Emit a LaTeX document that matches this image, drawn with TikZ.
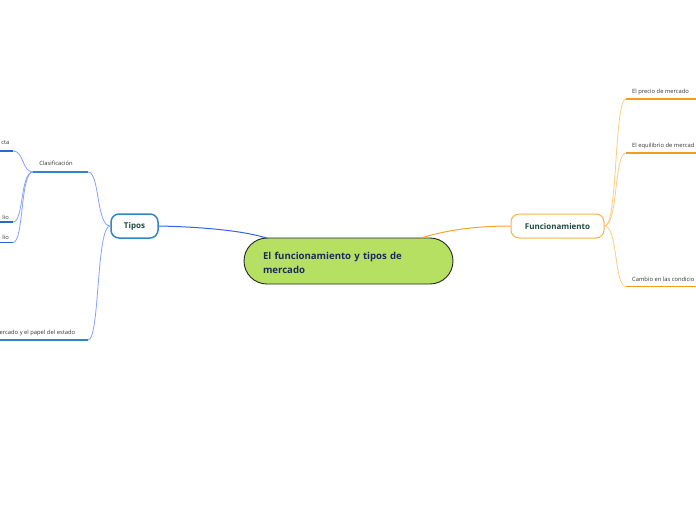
\documentclass[tikz,border=0pt]{standalone}
\usepackage{fontspec}
\setmainfont{Open Sans}
\usetikzlibrary{positioning}
\definecolor{centrefill}{HTML}{B5E061}
\definecolor{centretext}{HTML}{1C2B5A}
\definecolor{topictext}{HTML}{1E4A3E}
\definecolor{tiposblue}{HTML}{2F86C8}
\definecolor{linkblue}{HTML}{3462EC}
\definecolor{subblue}{HTML}{86A0FF}
\definecolor{lineblue}{HTML}{2A66D6}
\definecolor{funcorange}{HTML}{F7B24A}
\definecolor{linkorange}{HTML}{F5A330}
\definecolor{suborange}{HTML}{FCCB82}
\definecolor{lineorange}{HTML}{F39C1F}

\tikzset{
  centre/.style={draw=black!85, line width=0.9pt, fill=centrefill, rounded corners=23pt,
    minimum width=209pt, minimum height=46pt},
  centretitle/.style={text width=171pt, align=left, inner sep=0pt,
    font=\fontsize{9.6}{14}\selectfont\bfseries, text=centretext},
  topic/.style={draw, fill=white, rounded corners=8pt, minimum height=24pt,
    font=\fontsize{8}{10}\selectfont\bfseries, text=topictext},
  leaf/.style={inner sep=0pt, font=\fontsize{5.8}{7}\selectfont, text=black!80},
}

\begin{document}
\begin{tikzpicture}[x=1pt,y=-1pt]
\useasboundingbox (0,0) rectangle (696,520);
\clip (0,0) rectangle (696,520);

% main nodes
\node[centre] (main) at (348.5,261) {};
\node[centretitle] (maintitle) at ([yshift=-1.8pt]main.center) {El funcionamiento y tipos de\\mercado};
\node[topic, draw=tiposblue, line width=1.5pt, minimum width=47pt] (tipos) at (134.5,226) {Tipos};
\node[topic, draw=funcorange, line width=1pt, minimum width=93pt] (func) at (557.5,226) {Funcionamiento};

% left labels
\node[leaf] (clas) at (56,163) {Clasificación};
\node[leaf, anchor=east] (cta) at (9.5,143) {cta};
\node[leaf, anchor=east] (lioa) at (9,217) {lio};
\node[leaf, anchor=east] (liob) at (9,237) {lio};
\node[leaf, anchor=west] (estado) at (-0.5,333) {ercado y el papel del estado};

% right labels
\node[leaf, anchor=west] (precio) at (632,91.5) {El precio de mercado};
\node[leaf, anchor=west] (equil) at (632,145.5) {El equilibrio de mercad};
\node[leaf, anchor=west] (cambio) at (632,279.5) {Cambio en las condicio};

% underline ends
\coordinate (clasL) at (33,172);   \coordinate (clasR) at (88,172);
\coordinate (ctaL) at (-1,151);    \coordinate (ctaR) at (13,151);
\coordinate (lioaL) at (-1,222);   \coordinate (lioaR) at (13,222);
\coordinate (liobL) at (-1,242.5); \coordinate (liobR) at (13,242.5);
\coordinate (estL) at (-1,340);    \coordinate (estR) at (88,340);
\coordinate (preL) at (626,99);    \coordinate (preR) at (697,99);
\coordinate (equL) at (626,153);   \coordinate (equR) at (697,153);
\coordinate (camL) at (626,286.5); \coordinate (camR) at (697,286.5);

% connectors from the centre
\draw[linkblue, line width=1pt] (tipos.east) .. controls (205,227) and (245,231) .. (268,238.5);
\draw[linkorange, line width=1pt] (421,238) .. controls (450,229) and (480,226) .. (func.west);

% left branches
\draw[subblue, line width=0.8pt] (tipos.west) .. controls (96,226) and (100,172) .. (clasR);
\draw[subblue, line width=0.8pt] (tipos.west) .. controls (96,226) and (100,340) .. (estR);
\draw[subblue, line width=0.8pt] (clasL) .. controls (22,172) and (24,151) .. (ctaR);
\draw[subblue, line width=0.8pt] (clasL) .. controls (20,172) and (24,222) .. (lioaR);
\draw[subblue, line width=0.8pt] (clasL) .. controls (20,172) and (24,242.5) .. (liobR);

\draw[tiposblue, line width=1.5pt] (clasL) -- (clasR);
\draw[tiposblue, line width=1.5pt] (estL) -- (estR);
\foreach \a/\b in {ctaL/ctaR, lioaL/lioaR, liobL/liobR}
  \draw[lineblue, line width=1.3pt] (\a) -- (\b);

% right branches
\foreach \e in {preL, equL, camL}
  \draw[suborange, line width=0.8pt] (func.east) .. controls (618,226) and ([xshift=-12pt]\e) .. (\e);
\foreach \a/\b in {preL/preR, equL/equR, camL/camR}
  \draw[lineorange, line width=1.3pt] (\a) -- (\b);
\end{tikzpicture}
\end{document}
